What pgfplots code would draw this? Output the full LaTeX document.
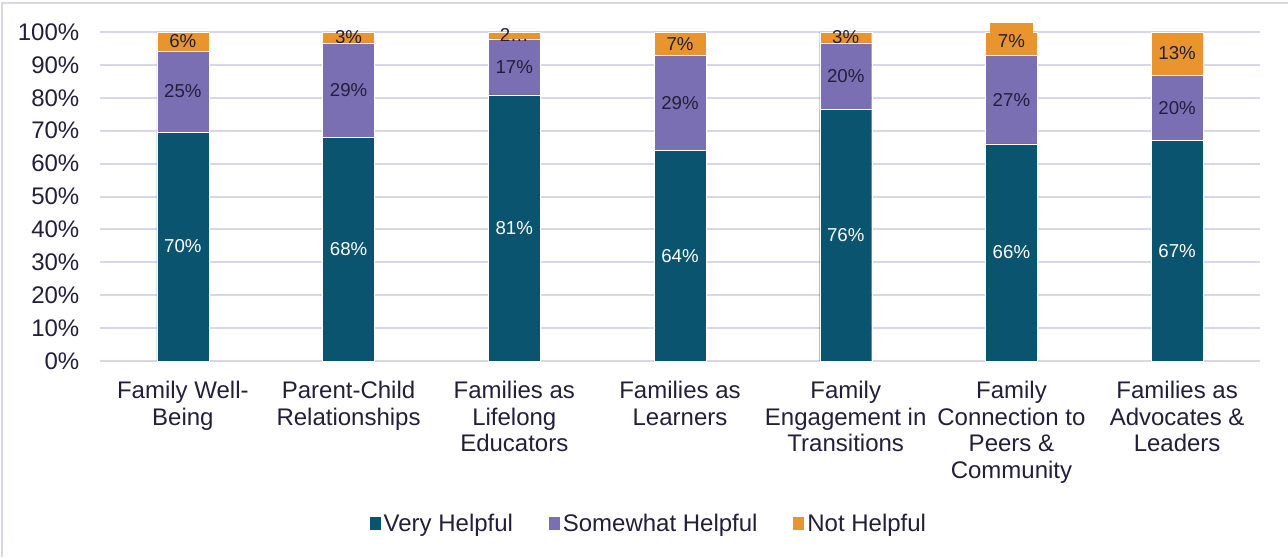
\documentclass[border=0pt]{standalone}
\usepackage{pgfplots}
\pgfplotsset{compat=1.18}
\usepackage{fontspec}
\setmainfont{Liberation Sans}
\definecolor{vh}{RGB}{11,84,112}
\definecolor{sh}{RGB}{123,111,180}
\definecolor{nh}{RGB}{232,149,48}
\definecolor{txt}{RGB}{34,31,58}
\definecolor{grd}{RGB}{217,214,234}
\begin{document}
\begin{tikzpicture}
\useasboundingbox (-75pt,-147pt) rectangle (891pt,270.75pt);
\draw[grd, line width=1.5pt] (-73.5pt,-147pt) -- (-73.5pt,268.5pt) -- (891pt,268.5pt);
\begin{axis}[
  at={(0,0)}, anchor=south west,
  scale only axis, width=870pt, height=246.75pt,
  ybar stacked, bar width=39pt,
  xmin=-0.5, xmax=6.5, ymin=0, ymax=100,
  clip=false,
  axis line style={draw=none},
  axis x line*=bottom,
  ytick={0,10,...,100},
  ymajorgrids, grid style={grd, line width=1.5pt},
  major tick length=0pt,
  /pgf/number format/assume math mode=true,
  yticklabel={\pgfmathprintnumber{\tick}\%},
  yticklabel style={font=\fontsize{18}{21}\selectfont, text=txt, xshift=-12pt},
  xtick={0,...,6},
  xticklabels={{Family Well-\\Being},{Parent-Child\\Relationships},{Families as\\Lifelong\\Educators},{Families as\\Learners},{Family\\Engagement in\\Transitions},{Family\\Connection to\\Peers \&\\Community},{Families as\\Advocates \&\\Leaders}},
  xticklabel style={font=\fontsize{18}{20}\selectfont, text=txt, align=center, yshift=-11.5pt},
  point meta=explicit symbolic,
  nodes near coords,
  every node near coord/.append style={font=\fontsize{14}{16}\selectfont, anchor=center},
  legend columns=3,
  legend style={at={(0.473,-0.495)}, anchor=center, draw=none, fill=none,
    font=\fontsize{18}{21}\selectfont, text=txt,
    /tikz/every even column/.append style={column sep=24pt}},
  legend image code/.code={\fill[#1] (0pt,-4.5pt) rectangle (9pt,5.5pt);},
]
\addplot[fill=vh, draw=white, line width=0.3pt, every node near coord/.append style={text=white}]
  coordinates {(0,69.6) [70\%] (1,68.0) [68\%] (2,80.9) [81\%] (3,64.0) [64\%] (4,76.4) [76\%] (5,66.0) [66\%] (6,67.0) [67\%]};
\addplot[fill=sh, draw=white, line width=0.3pt, every node near coord/.append style={text=txt}]
  coordinates {(0,24.6) [25\%] (1,28.7) [29\%] (2,17.0) [17\%] (3,28.8) [29\%] (4,20.3) [20\%] (5,26.8) [27\%] (6,19.9) [20\%]};
\addplot[fill=nh, draw=white, line width=0.3pt, every node near coord/.append style={text=txt}]
  coordinates {(0,5.8) [6\%] (1,3.3) [3\%] (2,2.1) [2…] (3,7.2) [7\%] (4,3.3) [3\%] (5,7.2) [{\setlength{\fboxsep}{0pt}\colorbox{nh}{\rule[-5.5pt]{0pt}{24pt}\hspace{6pt}7\%\hspace{6pt}}\rule[-12.7pt]{0pt}{12.7pt}}] (6,13.1) [13\%]};
\legend{Very Helpful, Somewhat Helpful, Not Helpful}
\end{axis}
\end{tikzpicture}
\end{document}
